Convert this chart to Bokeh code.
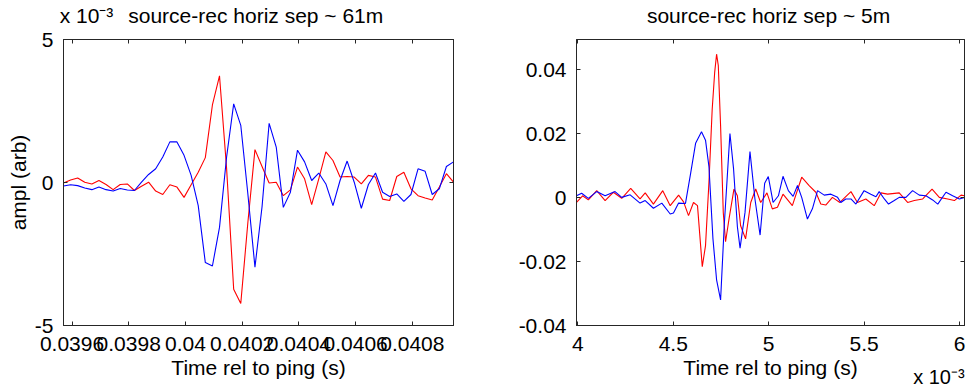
from bokeh.plotting import figure
from bokeh.layouts import row
from bokeh.models import Range1d, LinearAxis, FixedTicker, CustomJSTickFormatter
from bokeh.embed import file_html
from bokeh.resources import INLINE

FONT = "Liberation Sans"

# ---------------- data: left panel (sep ~ 61 m), amplitude in units of 1e-3 ----------------
t61 = [0.039570, 0.039595, 0.039620, 0.039645, 0.039670, 0.039695, 0.039720, 0.039745,
       0.039770, 0.039795, 0.039820, 0.039845, 0.039870, 0.039895, 0.039920, 0.039945,
       0.039970, 0.039995, 0.040020, 0.040045, 0.040070, 0.040095, 0.040120, 0.040145,
       0.040170, 0.040195, 0.040220, 0.040245, 0.040270, 0.040295, 0.040320, 0.040345,
       0.040370, 0.040395, 0.040420, 0.040445, 0.040470, 0.040495, 0.040520, 0.040545,
       0.040570, 0.040595, 0.040620, 0.040645, 0.040670, 0.040695, 0.040720, 0.040745,
       0.040770, 0.040795, 0.040820, 0.040845, 0.040870, 0.040895, 0.040920, 0.040945]
red61 = [-0.02, 0.09, 0.16, 0.01, -0.05, 0.07, -0.07, -0.25, -0.07, -0.05, -0.28, -0.13,
         0.01, -0.30, -0.42, -0.08, -0.16, -0.52, -0.08, 0.36, 0.87, 2.71, 3.73, 0.50,
         -3.73, -4.23, -1.40, 1.15, 0.56, -0.02, 0.01, -0.46, -0.26, 0.54, 0.13, -0.77,
         0.13, 1.07, 0.77, 0.19, 0.21, 0.19, -0.05, 0.25, 0.19, -0.58, -0.63, 0.21,
         0.36, -0.22, -0.46, -0.54, -0.61, -0.16, 0.31, 0.01]
blue61 = [-0.12, -0.08, -0.11, -0.19, -0.25, -0.16, -0.25, -0.30, -0.21, -0.26, -0.28, 0.01,
          0.28, 0.48, 0.89, 1.42, 1.42, 0.95, 0.25, -0.81, -2.80, -2.92, -1.57, 0.89,
          2.75, 2.00, -0.40, -2.96, -0.85, 2.07, 1.24, -0.87, -0.34, 1.13, 0.72, 0.07,
          0.33, -0.05, -0.81, 0.07, 0.75, 0.01, -0.90, -0.07, 0.33, -0.34, -0.49, -0.40,
          -0.66, -0.42, 0.48, 0.39, -0.42, -0.22, 0.56, 0.72]

# ---------------- data: right panel (sep ~ 5 m), time in units of 1e-3 s ----------------
t5_red = [3.993, 4.025, 4.055, 4.099, 4.143, 4.186, 4.230, 4.277, 4.326, 4.353, 4.396, 4.445,
          4.484, 4.528, 4.554, 4.580, 4.606, 4.627, 4.652, 4.669, 4.687, 4.704, 4.717, 4.727,
          4.736, 4.748, 4.762, 4.774, 4.792, 4.818, 4.836, 4.853, 4.879, 4.906, 4.932, 4.958,
          4.991, 5.019, 5.046, 5.075, 5.124, 5.173, 5.212, 5.247, 5.273, 5.299, 5.334, 5.373,
          5.431, 5.465, 5.509, 5.553, 5.588, 5.623, 5.684, 5.728, 5.763, 5.807, 5.856, 5.894,
          5.938, 5.973, 6.008, 6.026]
red5 = [-0.0015, 0.0006, -0.0007, 0.0022, -0.0009, 0.0017, -0.0002, 0.0029, -0.0004, 0.0015,
        -0.0020, 0.0022, -0.0025, 0.0008, -0.0013, -0.0056, -0.0015, -0.0025, -0.0216, -0.0150,
        0.0048, 0.0277, 0.0392, 0.0449, 0.0413, 0.0225, -0.0046, -0.0138, -0.0067, 0.0027,
        0.0006, -0.0088, -0.0129, -0.0015, 0.0027, -0.0015, 0.0015, -0.0035, -0.0030, 0.0011,
        -0.0025, 0.0064, 0.0038, 0.0017, -0.0020, -0.0023, 0.0001, -0.0015, 0.0019, -0.0015,
        -0.0004, -0.0025, 0.0015, 0.0011, 0.0015, -0.0015, -0.0009, -0.0004, 0.0027, 0.0001,
        -0.0004, -0.0009, 0.0008, 0.0006]
t5_blue = [3.993, 4.020, 4.055, 4.099, 4.143, 4.195, 4.230, 4.274, 4.326, 4.353, 4.396, 4.440,
           4.484, 4.501, 4.528, 4.564, 4.591, 4.617, 4.648, 4.669, 4.687, 4.708, 4.727, 4.748,
           4.767, 4.797, 4.816, 4.836, 4.850, 4.876, 4.902, 4.928, 4.955, 4.979, 4.998, 5.023,
           5.051, 5.075, 5.103, 5.128, 5.151, 5.173, 5.203, 5.229, 5.256, 5.291, 5.326, 5.361,
           5.378, 5.404, 5.431, 5.457, 5.500, 5.535, 5.562, 5.579, 5.606, 5.628, 5.658, 5.684,
           5.719, 5.754, 5.789, 5.824, 5.859, 5.886, 5.929, 5.964, 5.999, 6.026]
blue5 = [0.0006, 0.0014, -0.0002, 0.0019, 0.0006, 0.0019, 0.0001, 0.0009, -0.0017, -0.0009,
         -0.0033, -0.0017, -0.0051, -0.0048, -0.0017, -0.0018, 0.0076, 0.0170, 0.0206, 0.0180,
         0.0097, -0.0129, -0.0257, -0.0320, -0.0088, 0.0201, 0.0090, -0.0091, -0.0158, -0.0046,
         0.0144, -0.0004, -0.0117, 0.0045, 0.0066, -0.0015, 0.0006, 0.0067, 0.0022, 0.0004,
         0.0038, 0.0001, -0.0067, -0.0035, 0.0022, 0.0008, 0.0011, 0.0001, -0.0015, -0.0004,
         -0.0004, -0.0020, 0.0022, 0.0011, 0.0003, 0.0019, -0.0004, -0.0020, -0.0009, 0.0001,
         0.0001, 0.0022, 0.0008, 0.0006, -0.0007, -0.0020, 0.0017, 0.0006, -0.0004, 0.0001]

# ---------------- texts and ticks ----------------
title61 = "source-rec horiz sep ~ 61m"
title5 = "source-rec horiz sep ~ 5m"
xlabel = "Time rel to ping (s)"
ylabel = "ampl (arb)"
scale_note = "x 10\u207b\u00b3"
xticks61 = [0.0396, 0.0398, 0.0400, 0.0402, 0.0404, 0.0406, 0.0408]
yticks61 = [-5, 0, 5]
xticks5 = [4, 4.5, 5, 5.5, 6]
yticks5 = [-0.04, -0.02, 0, 0.02, 0.04]

AX = "#262626"
FS = "21px"


def num_fmt():
    return CustomJSTickFormatter(code="return String(Number(tick.toFixed(6)));")


def text_fmt(labels):
    return CustomJSTickFormatter(args=dict(labels=labels), code="return labels[index];")


def base_style(ax):
    ax.axis_line_color = AX
    ax.major_tick_line_color = AX
    ax.minor_tick_line_color = AX
    ax.major_tick_in = 4
    ax.major_tick_out = 0
    ax.minor_tick_in = 4
    ax.minor_tick_out = 0
    ax.major_label_text_font = FONT
    ax.major_label_text_font_size = FS
    ax.major_label_text_color = "black"
    ax.axis_label_text_font = FONT
    ax.axis_label_text_font_size = FS
    ax.axis_label_text_font_style = "normal"
    ax.axis_label_text_color = "black"


def mirror(ticks):
    ax = LinearAxis(ticker=FixedTicker(ticks=[], minor_ticks=ticks))
    base_style(ax)
    ax.major_label_standoff = 0
    return ax


def make_fig(xr, yr, xt, yt, bl, br, fw, top_labels, top_fracs):
    p = figure(frame_width=fw, frame_height=286,
               min_border_left=bl, min_border_right=br, min_border_top=39, min_border_bottom=62,
               x_range=Range1d(*xr), y_range=Range1d(*yr),
               output_backend="svg", toolbar_location=None, tools="")
    p.grid.visible = False
    p.outline_line_color = AX
    for ax, t in ((p.xaxis[0], xt), (p.yaxis[0], yt)):
        ax.ticker = FixedTicker(ticks=t)
        ax.formatter = num_fmt()
        base_style(ax)
        ax.minor_tick_line_color = None
    p.xaxis[0].major_label_standoff = 11
    p.yaxis[0].major_label_standoff = 10
    p.xaxis[0].axis_label = xlabel
    p.xaxis[0].axis_label_standoff = 2
    # top frame edge: inward ticks, titles carried as its labels
    top = LinearAxis(ticker=FixedTicker(ticks=[xr[0] + f * (xr[1] - xr[0]) for f in top_fracs],
                                        minor_ticks=xt),
                     formatter=text_fmt(top_labels))
    base_style(top)
    top.major_tick_line_color = None
    top.major_label_standoff = 13
    p.add_layout(top, "above")
    p.add_layout(mirror(yt), "right")
    return p


# left panel
p1 = make_fig((0.03957, 0.040945), (-5, 5), xticks61, yticks61, 63, 37, 390,
              [scale_note, title61], [0.059, 0.493])
p1.yaxis[0].axis_label = ylabel
p1.yaxis[0].axis_label_standoff = 2
p1.line(t61, red61, line_color="#ff0000", line_width=1.1)
p1.line(t61, blue61, line_color="#0000ff", line_width=1.1)

# right panel
xr5 = (3.993, 6.026)
p2 = make_fig(xr5, (-0.04, 0.0495), xticks5, yticks5, 86, 3, 388, [title5], [0.495])
p2.line(t5_red, red5, line_color="#ff0000", line_width=1.1)
p2.line(t5_blue, blue5, line_color="#0000ff", line_width=1.1)
note = LinearAxis(ticker=FixedTicker(ticks=[xr5[0] + 0.934 * (xr5[1] - xr5[0])], minor_ticks=[]),
                  formatter=text_fmt([scale_note]))
base_style(note)
note.axis_line_color = None
note.major_tick_line_color = None
note.major_label_text_font_size = "20px"
note.major_label_standoff = -16
p2.add_layout(note, "below")

layout = row(p1, p2)
open("out.html", "w").write(file_html(layout, INLINE))
